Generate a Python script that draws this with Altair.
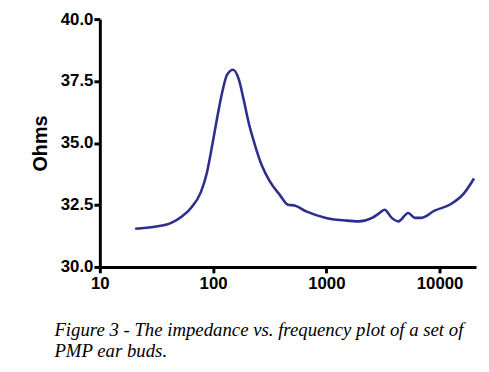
import altair as alt
import pandas as pd

freq = [20.5, 30.6, 42.7, 53, 63.8, 78, 87.6, 98.6, 109, 120, 133, 150, 169, 186, 206,
        235, 269, 318, 388, 460, 525, 664, 993, 1500, 1937, 2535, 2900, 3266, 3786,
        4323, 5287, 6043, 6912, 9036, 12620, 16480, 20140]
ohms = [31.54, 31.62, 31.78, 32.04, 32.38, 33.02, 33.75, 34.95, 36.05, 37.02, 37.76, 37.96,
        37.56, 36.76, 35.83, 34.90, 34.10, 33.44, 32.91, 32.51, 32.48, 32.24, 31.98, 31.87,
        31.84, 31.98, 32.15, 32.31, 31.98, 31.84, 32.18, 31.98, 31.98, 32.27, 32.54, 32.98,
        33.57]
x_ticks = [10, 100, 1000, 10000]
y_ticks = [30.0, 32.5, 35.0, 37.5, 40.0]
caption = ["Figure 3 - The impedance vs. frequency plot of a set of", "PMP ear buds."]

df = pd.DataFrame({"freq": freq, "ohms": ohms})

axis_common = dict(
    domainColor="black", domainWidth=3, tickColor="black", tickWidth=3, tickSize=6,
    labelFont="Liberation Sans", labelFontWeight="bold", labelFontSize=17,
    labelColor="black", labelFlush=False, labelOverlap=False, grid=False,
)

chart = (
    alt.Chart(
        df,
        title=alt.TitleParams(
            text=caption, orient="bottom", anchor="start", frame="group", dx=-46,
            offset=30, font="Liberation Serif", fontStyle="italic", fontWeight="normal",
            fontSize=19, lineHeight=21, color="black",
        ),
    )
    .mark_line(color="#2E2E8E", strokeWidth=2.6, interpolate="monotone")
    .encode(
        x=alt.X("freq:Q",
                scale=alt.Scale(type="log", domain=[10, 21000], nice=False),
                axis=alt.Axis(values=x_ticks, format="d", title=None, labelPadding=3,
                              **axis_common)),
        y=alt.Y("ohms:Q",
                scale=alt.Scale(domain=[30, 40], nice=False, zero=False),
                axis=alt.Axis(values=y_ticks, format=".1f", title="Ohms",
                              titleFont="Liberation Sans", titleFontWeight="bold",
                              titleFontSize=20, titleColor="black", titlePadding=10,
                              labelPadding=1, **axis_common)),
    )
    .properties(
        width=381, height=251,
        autosize=alt.AutoSizeParams(type="none"),
        padding={"left": 93, "top": 9, "right": 5, "bottom": 93},
    )
    .configure_view(stroke=None)
)

chart.save("out.html", embed_options={"renderer": "svg", "actions": False})
